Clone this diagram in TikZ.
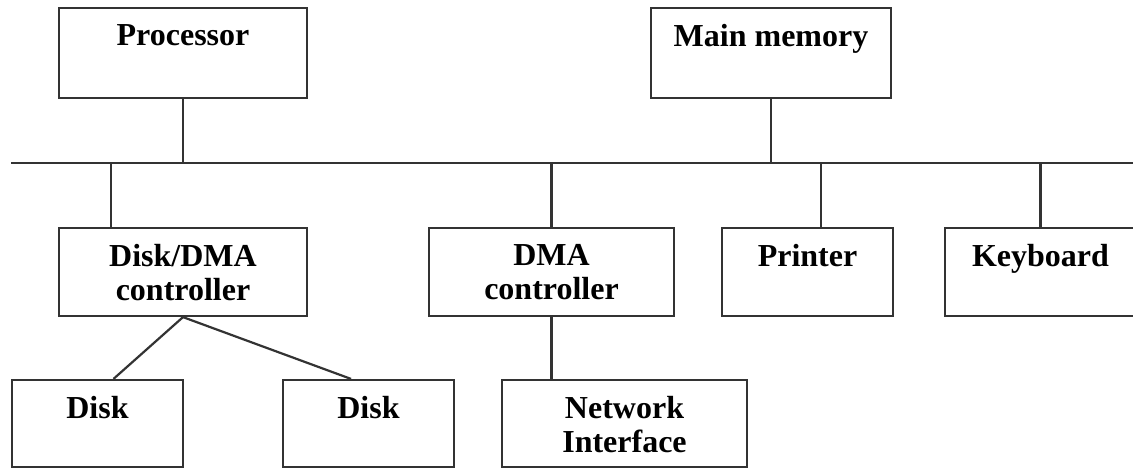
\documentclass[tikz,border=0pt]{standalone}
\usepackage{fontspec}
\setmainfont{Liberation Serif}
\usepackage{xcolor}
\definecolor{linegray}{HTML}{333333}

\begin{document}
\begin{tikzpicture}[x=0.5pt, y=-0.5pt,
    unit/.style={draw=linegray, line width=1.1pt, inner sep=0pt, minimum height=44pt},
    lbl/.style={anchor=north, inner sep=0pt, align=center, yshift=-8.5pt,
                font=\fontsize{16}{17}\selectfont\bfseries},
    wire/.style={draw=linegray, line width=1.1pt}]
    \useasboundingbox (0,0) rectangle (1133,468);
    % Linha superior
    \node[unit, minimum width=124pt, minimum height=45pt] (proc) at (183,53) {};
    \node[lbl] (proc-t) at (proc.north) {Processor};
    \node[unit, minimum width=120pt, minimum height=45pt] (mem) at (771,53) {};
    \node[lbl] (mem-t) at (mem.north) {Main memory};
    % Barramento
    \coordinate (busL) at (11,163);
    \coordinate (busR) at (1140,163);
    \draw[wire] (busL) -- (busR);
    \draw[wire] (proc.south) -- (proc.south |- busL);
    \draw[wire] (mem.south) -- (mem.south |- busL);
    % Controladores e dispositivos
    \node[unit, minimum width=124pt] (dmactl) at (183,272) {};
    \node[lbl] (dmactl-t) at (dmactl.north) {Disk/DMA\\controller};
    \node[unit, minimum width=122.5pt] (dma) at (551.5,272) {};
    \node[lbl] (dma-t) at (dma.north) {DMA\\controller};
    \node[unit, minimum width=85.5pt] (prn) at (807.5,272) {};
    \node[lbl] (prn-t) at (prn.north) {Printer};
    \node[unit, minimum width=95.5pt] (kbd) at (1040.5,272) {};
    \node[lbl] (kbd-t) at (kbd.north) {Keyboard};
    \coordinate (t1) at (111,163);
    \coordinate (t3) at (821,163);
    \draw[wire] (t1) -- (t1 |- dmactl.north);
    \draw[wire] (dma.north |- busL) -- (dma.north);
    \draw[wire] (t3) -- (t3 |- prn.north);
    \draw[wire] (kbd.north |- busL) -- (kbd.north);
    % Discos e rede
    \node[unit, minimum width=85.5pt, minimum height=43.5pt] (disk1) at (97.5,423.5) {};
    \node[lbl] (disk1-t) at (disk1.north) {Disk};
    \node[unit, minimum width=85.5pt, minimum height=43.5pt] (disk2) at (368.5,423.5) {};
    \node[lbl] (disk2-t) at (disk2.north) {Disk};
    \node[unit, minimum width=122.5pt, minimum height=43.5pt] (net) at (624.5,423.5) {};
    \node[lbl] (net-t) at (net.north) {Network\\Interface};
    \draw[wire] (dmactl.south) -- ([xshift=8pt]disk1.north);
    \draw[wire] (dmactl.south) -- ([xshift=-8.75pt]disk2.north);
    \draw[wire] (dma.south) -- (dma.south |- net.north);
\end{tikzpicture}
\end{document}
